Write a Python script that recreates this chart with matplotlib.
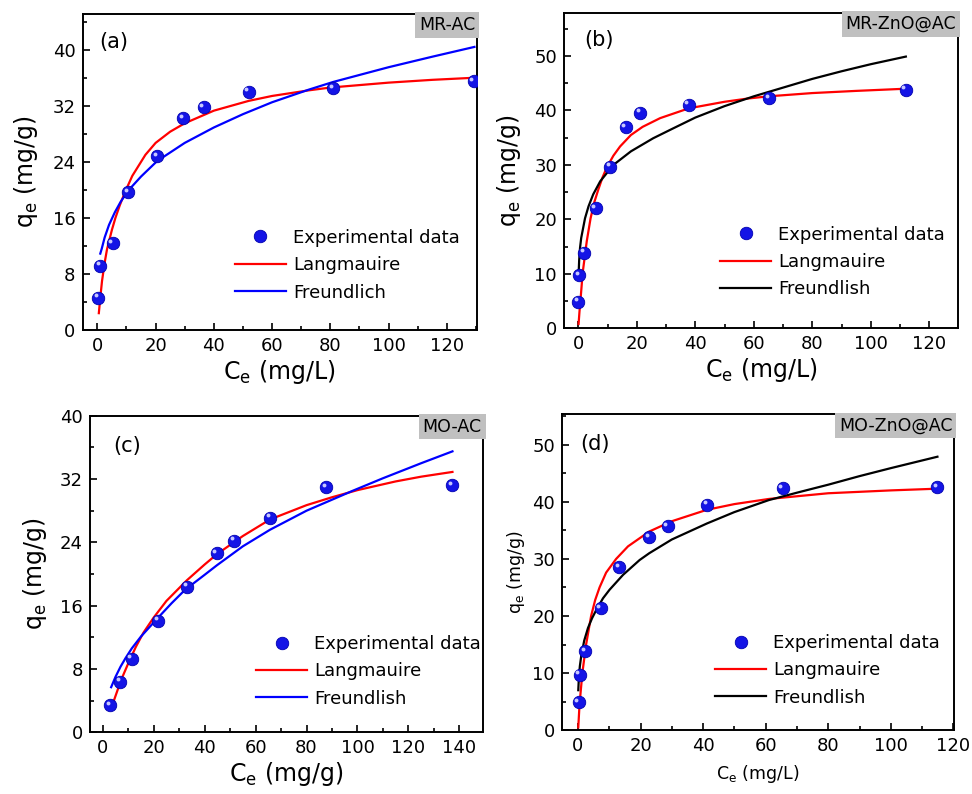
#!/usr/bin/env python3
"""Adsorption isotherm panels (Langmuir / Freundlich fits) for MR and MO dyes."""

import matplotlib
matplotlib.use("Agg")
import matplotlib.pyplot as plt
from matplotlib.ticker import MultipleLocator
from matplotlib.transforms import offset_copy

plt.rcParams.update({
    "font.family": "DejaVu Sans",
    "mathtext.fontset": "dejavusans",
    "axes.linewidth": 1.4,
})

# ---- (a) MR-AC ----
ce_a = [0.3, 1.0, 5.2, 10.5, 20.5, 29.5, 36.5, 52.0, 81.0, 129.3]
qe_a = [4.6, 9.2, 12.4, 19.7, 24.8, 30.2, 31.8, 34.0, 34.5, 35.5]
lang_c_a = [0.5, 1.0, 1.6, 2.5, 3.3, 5.0, 6.2, 7.7, 9.5, 12, 16.5, 20, 25, 30, 40, 52, 60, 72.6, 80, 100, 115, 129.5]
lang_q_a = [2.4, 4.6, 7.0, 9.6, 11.5, 14.3, 16.0, 17.8, 19.7, 22.0, 25.0, 26.7, 28.3, 29.5, 31.3, 32.7, 33.4, 34.2, 34.6, 35.3, 35.7, 36.0]
freu_c_a = [1.0, 1.5, 2.5, 4, 6, 8, 10.6, 15, 20.5, 30, 40, 50, 60, 72.6, 81, 100, 115, 129.5]
freu_q_a = [10.9, 11.6, 13.2, 15.0, 16.8, 18.3, 19.9, 21.9, 24.1, 26.7, 28.9, 30.8, 32.5, 34.3, 35.4, 37.5, 39.0, 40.4]

# ---- (b) MR-ZnO@AC ----
ce_b = [0.0, 0.3, 2.0, 5.9, 10.8, 16.2, 21.1, 37.8, 65.3, 112.0]
qe_b = [4.9, 9.8, 13.9, 22.1, 29.7, 36.9, 39.6, 41.1, 42.3, 43.8]
lang_c_b = [0.1, 0.4, 0.8, 1.5, 2.9, 4.2, 5.5, 6.8, 8.2, 9.7, 12, 14.3, 18, 22, 28, 37.8, 50, 58, 65, 80, 95, 112]
lang_q_b = [0.8, 3.0, 5.5, 10.2, 16.0, 20.2, 23.2, 25.4, 27.6, 29.5, 31.7, 33.4, 35.5, 37.0, 38.6, 40.4, 41.6, 42.2, 42.6, 43.2, 43.6, 44.0]
freu_c_b = [0.1, 0.3, 0.6, 1.0, 2.3, 3.5, 5.1, 7.5, 12, 18, 25.6, 32, 40, 50, 60, 70, 80, 90, 100, 112]
freu_q_b = [9.8, 12.5, 14.8, 16.6, 20.2, 22.4, 24.6, 27.0, 30.0, 32.5, 34.9, 36.6, 38.7, 40.8, 42.6, 44.2, 45.8, 47.2, 48.5, 49.9]

# ---- (c) MO-AC ----
ce_c = [2.9, 6.8, 11.3, 21.8, 33.2, 44.8, 51.6, 65.7, 87.6, 137.3]
qe_c = [3.45, 6.4, 9.3, 14.1, 18.4, 22.6, 24.2, 27.1, 31.0, 31.2]
lang_c_c = [3.5, 6, 8, 10, 13, 16, 20, 25, 33, 40, 44.8, 55, 65.7, 80, 90, 100, 115, 125, 137.3]
lang_q_c = [3.2, 5.5, 7.2, 8.7, 10.8, 12.6, 14.5, 16.6, 19.2, 21.2, 22.5, 24.8, 26.9, 28.7, 29.7, 30.6, 31.7, 32.3, 32.9]
freu_c_c = [3.3, 5, 7, 9, 11.4, 15, 21.2, 27, 32.3, 40, 44.8, 55, 65.7, 80, 98, 110, 125, 137.3]
freu_q_c = [5.7, 7.0, 8.3, 9.4, 10.6, 12.1, 14.3, 16.3, 18.0, 19.9, 21.1, 23.5, 25.6, 28.0, 30.5, 32.1, 34.0, 35.5]

# ---- (d) MO-ZnO@AC ----
ce_d = [0.2, 0.5, 2.3, 7.3, 13.2, 22.8, 28.7, 41.2, 65.4, 114.9]
qe_d = [4.9, 9.75, 13.8, 21.4, 28.5, 33.8, 35.7, 39.5, 42.4, 42.6]
lang_c_d = [0.1, 0.5, 1.4, 2.6, 4.2, 5.5, 6.9, 9, 12.2, 16, 22.8, 30, 41.2, 50, 61, 80, 100, 114.9]
lang_q_d = [0.5, 4.5, 10.0, 15.0, 20.0, 22.8, 25.0, 27.6, 30.0, 32.2, 34.8, 36.6, 38.6, 39.6, 40.5, 41.5, 42.0, 42.3]
freu_c_d = [0.1, 0.3, 0.6, 1.05, 2, 3.2, 4.5, 5.8, 8, 10.1, 14.4, 19.7, 22.8, 30, 41.2, 50, 61, 70, 80, 90, 100, 114.9]
freu_q_d = [7.0, 9.3, 11.2, 13.0, 15.7, 17.9, 19.6, 21.0, 23.1, 24.6, 27.2, 29.8, 31.0, 33.4, 36.2, 38.2, 40.3, 41.6, 43.0, 44.5, 45.9, 47.9]

BALL = "#1414e6"
RED = "#ff0000"
BLUE = "#0000ff"


def panel(ax, fig, ce, qe, lc, lq, fc, fq, fcolor, fname, tag, letter,
          xlab, ylab, lab_size, letter_xy, leg_anchor, ypad, xpad):
    ax.plot(lc, lq, color=RED, lw=1.6, zorder=2)
    ax.plot(fc, fq, color=fcolor, lw=1.6, zorder=2)
    ax.plot(ce, qe, "o", ms=9, mfc=BALL, mec="#0000b0", mew=0.6, zorder=3)
    hl = offset_copy(ax.transData, fig=fig, x=-1.7, y=1.7, units="points")
    ax.plot(ce, qe, "o", ms=2.8, mfc="#c8c8ff", mec="none", transform=hl, zorder=4)

    # legend proxies
    h_pt, = ax.plot([], [], "o", ms=9, mfc=BALL, mec="#0000b0", mew=0.6)
    h_l, = ax.plot([], [], color=RED, lw=1.6)
    h_f, = ax.plot([], [], color=fcolor, lw=1.6)
    ax.legend([h_pt, h_l, h_f], ["Experimental data", "Langmauire", fname],
              loc="lower right", bbox_to_anchor=leg_anchor, frameon=False,
              fontsize=13, handlelength=2.8, handletextpad=0.4,
              labelspacing=0.52, borderpad=0, borderaxespad=0)

    ax.text(letter_xy[0], letter_xy[1], letter, transform=ax.transAxes,
            fontsize=15, ha="left", va="center")
    ax.text(0.996, 0.994, tag, transform=ax.transAxes, fontsize=12.5,
            ha="right", va="top",
            bbox=dict(boxstyle="square,pad=0.22", fc="#c0c0c0", ec="none"))

    ax.set_xlabel(xlab, fontsize=lab_size, labelpad=xpad)
    ax.set_ylabel(ylab, fontsize=lab_size, labelpad=ypad)
    ax.xaxis.set_minor_locator(MultipleLocator(10))
    ax.xaxis.set_major_locator(MultipleLocator(20))
    ax.tick_params(which="both", direction="in", labelsize=13, width=1.2, pad=5)
    ax.tick_params(which="major", length=5)
    ax.tick_params(which="minor", length=3)


def main():
    fig = plt.figure(figsize=(9.72, 7.94), dpi=100)
    ax_a = fig.add_axes([0.0849, 0.5844, 0.4059, 0.3980])
    ax_b = fig.add_axes([0.5802, 0.5865, 0.4053, 0.3971])
    ax_c = fig.add_axes([0.0926, 0.0777, 0.4046, 0.3987])
    ax_d = fig.add_axes([0.5782, 0.0804, 0.4033, 0.3976])

    q_lab = r"q$_\mathregular{e}$ (mg/g)"

    panel(ax_a, fig, ce_a, qe_a, lang_c_a, lang_q_a, freu_c_a, freu_q_a,
          BLUE, "Freundlich", "MR-AC", "(a)",
          r"C$_\mathregular{e}$ (mg/L)", q_lab, 17, (0.042, 0.911), (0.956, 0.09), 9, 2)
    ax_a.set_xlim(-5.1, 130.4)
    ax_a.set_ylim(0, 45.1)
    ax_a.yaxis.set_major_locator(MultipleLocator(8))
    ax_a.yaxis.set_minor_locator(MultipleLocator(4))

    panel(ax_b, fig, ce_b, qe_b, lang_c_b, lang_q_b, freu_c_b, freu_q_b,
          "black", "Freundlish", "MR-ZnO@AC", "(b)",
          r"C$_\mathregular{e}$ (mg/L)", q_lab, 17, (0.052, 0.914), (0.967, 0.095), 8, 2)
    ax_b.set_xlim(-4.9, 129.8)
    ax_b.set_ylim(0, 57.9)
    ax_b.yaxis.set_major_locator(MultipleLocator(10))
    ax_b.yaxis.set_minor_locator(MultipleLocator(5))

    panel(ax_c, fig, ce_c, qe_c, lang_c_c, lang_q_c, freu_c_c, freu_q_c,
          BLUE, "Freundlish", "MO-AC", "(c)",
          r"C$_\mathregular{e}$ (mg/g)", q_lab, 17, (0.058, 0.904), (0.994, 0.078), 8, 2)
    ax_c.set_xlim(-5.0, 149.4)
    ax_c.set_ylim(0, 40)
    ax_c.yaxis.set_major_locator(MultipleLocator(8))
    ax_c.yaxis.set_minor_locator(MultipleLocator(4))

    panel(ax_d, fig, ce_d, qe_d, lang_c_d, lang_q_d, freu_c_d, freu_q_d,
          "black", "Freundlish", "MO-ZnO@AC", "(d)",
          r"C$_\mathregular{e}$ (mg/L)", q_lab, 12.5, (0.046, 0.905), (0.964, 0.074), 4, 6)
    ax_d.set_xlim(-5.1, 120.2)
    ax_d.set_ylim(0, 55.3)
    ax_d.yaxis.set_major_locator(MultipleLocator(10))
    ax_d.yaxis.set_minor_locator(MultipleLocator(5))

    fig.savefig("out.png", dpi=100)


if __name__ == "__main__":
    main()
